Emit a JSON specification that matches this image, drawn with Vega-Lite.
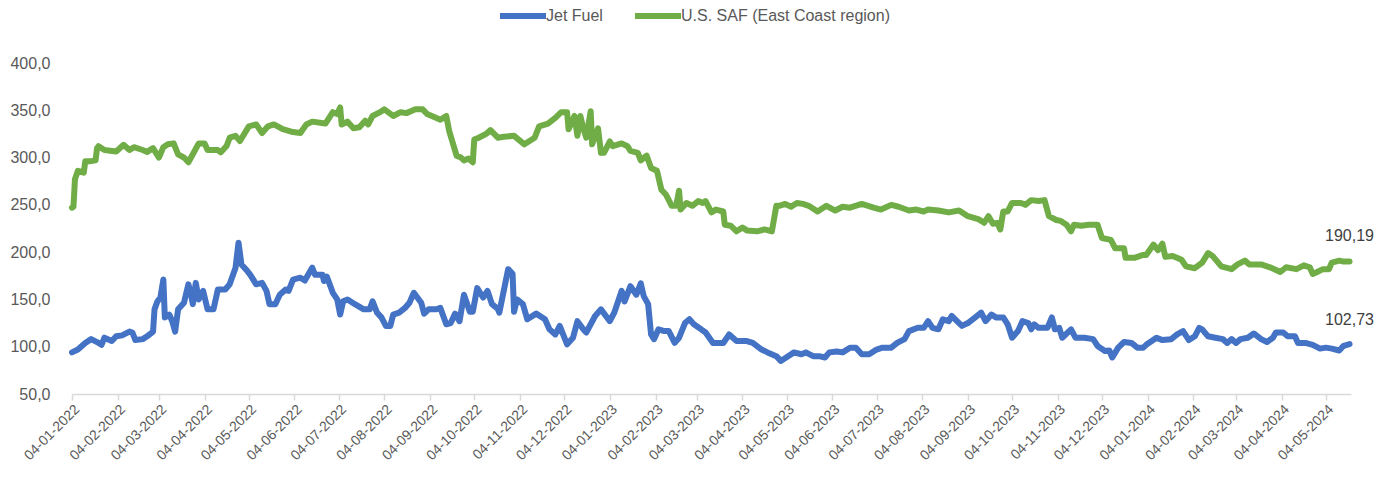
{
  "$schema": "https://vega.github.io/schema/vega-lite/v6.json",
  "width": 1279,
  "height": 331,
  "autosize": {"type": "none"},
  "padding": {"left": 72, "top": 63, "right": 37, "bottom": 89},
  "background": "#ffffff",
  "config": {
    "view": {"stroke": null},
    "locale": {"number": {"decimal": ",", "thousands": ".", "grouping": [3], "currency": ["", " €"]}},
    "font": "Liberation Sans"
  },
  "datasets": {
    "jet": [
      {"date": "2022-01-04", "value": 94}, {"date": "2022-01-08", "value": 97}, {"date": "2022-01-13", "value": 104}, {"date": "2022-01-17", "value": 108},
      {"date": "2022-01-22", "value": 104}, {"date": "2022-01-24", "value": 102}, {"date": "2022-01-26", "value": 109.5}, {"date": "2022-01-31", "value": 106},
      {"date": "2022-02-03", "value": 111}, {"date": "2022-02-07", "value": 112}, {"date": "2022-02-12", "value": 116}, {"date": "2022-02-14", "value": 115},
      {"date": "2022-02-16", "value": 107}, {"date": "2022-02-21", "value": 108}, {"date": "2022-02-24", "value": 111}, {"date": "2022-02-28", "value": 116},
      {"date": "2022-03-01", "value": 139.5}, {"date": "2022-03-03", "value": 148}, {"date": "2022-03-05", "value": 152}, {"date": "2022-03-07", "value": 171},
      {"date": "2022-03-08", "value": 131}, {"date": "2022-03-11", "value": 134}, {"date": "2022-03-13", "value": 127}, {"date": "2022-03-15", "value": 116},
      {"date": "2022-03-17", "value": 139.5}, {"date": "2022-03-21", "value": 146.5}, {"date": "2022-03-24", "value": 166}, {"date": "2022-03-26", "value": 153.5},
      {"date": "2022-03-27", "value": 145}, {"date": "2022-03-29", "value": 167.5}, {"date": "2022-03-31", "value": 150}, {"date": "2022-04-03", "value": 159},
      {"date": "2022-04-06", "value": 139.5}, {"date": "2022-04-10", "value": 139.5}, {"date": "2022-04-13", "value": 160.5}, {"date": "2022-04-18", "value": 160.5},
      {"date": "2022-04-21", "value": 166}, {"date": "2022-04-25", "value": 183.6}, {"date": "2022-04-27", "value": 210}, {"date": "2022-04-29", "value": 187},
      {"date": "2022-05-03", "value": 180}, {"date": "2022-05-05", "value": 176}, {"date": "2022-05-09", "value": 166}, {"date": "2022-05-13", "value": 167.5},
      {"date": "2022-05-16", "value": 159}, {"date": "2022-05-18", "value": 145}, {"date": "2022-05-22", "value": 145}, {"date": "2022-05-25", "value": 155},
      {"date": "2022-05-29", "value": 160.5}, {"date": "2022-05-31", "value": 159}, {"date": "2022-06-03", "value": 171}, {"date": "2022-06-08", "value": 173},
      {"date": "2022-06-11", "value": 170}, {"date": "2022-06-16", "value": 183.6}, {"date": "2022-06-18", "value": 176}, {"date": "2022-06-23", "value": 176},
      {"date": "2022-06-24", "value": 169.5}, {"date": "2022-06-26", "value": 174}, {"date": "2022-06-30", "value": 157}, {"date": "2022-07-03", "value": 150},
      {"date": "2022-07-05", "value": 134}, {"date": "2022-07-07", "value": 148}, {"date": "2022-07-10", "value": 150}, {"date": "2022-07-15", "value": 145},
      {"date": "2022-07-21", "value": 139.5}, {"date": "2022-07-25", "value": 139.5}, {"date": "2022-07-27", "value": 148}, {"date": "2022-07-30", "value": 136},
      {"date": "2022-08-02", "value": 131}, {"date": "2022-08-05", "value": 122}, {"date": "2022-08-08", "value": 122}, {"date": "2022-08-10", "value": 134},
      {"date": "2022-08-14", "value": 136}, {"date": "2022-08-18", "value": 141}, {"date": "2022-08-21", "value": 146.5}, {"date": "2022-08-24", "value": 157},
      {"date": "2022-08-29", "value": 146.5}, {"date": "2022-08-31", "value": 135}, {"date": "2022-09-03", "value": 139.5}, {"date": "2022-09-08", "value": 139.5},
      {"date": "2022-09-11", "value": 141}, {"date": "2022-09-15", "value": 123.7}, {"date": "2022-09-18", "value": 125}, {"date": "2022-09-21", "value": 135},
      {"date": "2022-09-24", "value": 127}, {"date": "2022-09-27", "value": 155}, {"date": "2022-10-01", "value": 137}, {"date": "2022-10-03", "value": 137},
      {"date": "2022-10-06", "value": 162}, {"date": "2022-10-10", "value": 152}, {"date": "2022-10-13", "value": 159}, {"date": "2022-10-16", "value": 145},
      {"date": "2022-10-20", "value": 140}, {"date": "2022-10-21", "value": 136}, {"date": "2022-10-24", "value": 159}, {"date": "2022-10-27", "value": 182},
      {"date": "2022-10-30", "value": 177}, {"date": "2022-10-31", "value": 137}, {"date": "2022-11-02", "value": 150}, {"date": "2022-11-06", "value": 145},
      {"date": "2022-11-09", "value": 129}, {"date": "2022-11-15", "value": 135}, {"date": "2022-11-21", "value": 129}, {"date": "2022-11-24", "value": 118.4},
      {"date": "2022-11-28", "value": 113}, {"date": "2022-12-01", "value": 122}, {"date": "2022-12-06", "value": 102.5}, {"date": "2022-12-10", "value": 109.5},
      {"date": "2022-12-13", "value": 127}, {"date": "2022-12-17", "value": 118.4}, {"date": "2022-12-19", "value": 115}, {"date": "2022-12-25", "value": 132.5},
      {"date": "2022-12-29", "value": 139.5}, {"date": "2023-01-04", "value": 127}, {"date": "2023-01-07", "value": 136}, {"date": "2023-01-12", "value": 159},
      {"date": "2023-01-14", "value": 148}, {"date": "2023-01-18", "value": 164}, {"date": "2023-01-22", "value": 155}, {"date": "2023-01-25", "value": 167},
      {"date": "2023-01-27", "value": 153.5}, {"date": "2023-01-30", "value": 145}, {"date": "2023-02-01", "value": 113}, {"date": "2023-02-03", "value": 108},
      {"date": "2023-02-06", "value": 118.4}, {"date": "2023-02-10", "value": 116.5}, {"date": "2023-02-13", "value": 116.5}, {"date": "2023-02-17", "value": 104},
      {"date": "2023-02-20", "value": 109.5}, {"date": "2023-02-24", "value": 125}, {"date": "2023-02-27", "value": 129}, {"date": "2023-03-02", "value": 123.7},
      {"date": "2023-03-07", "value": 118.4}, {"date": "2023-03-10", "value": 115}, {"date": "2023-03-15", "value": 104}, {"date": "2023-03-22", "value": 104},
      {"date": "2023-03-26", "value": 113}, {"date": "2023-03-31", "value": 106}, {"date": "2023-04-07", "value": 106}, {"date": "2023-04-11", "value": 104},
      {"date": "2023-04-17", "value": 97}, {"date": "2023-04-21", "value": 94}, {"date": "2023-04-27", "value": 90}, {"date": "2023-04-30", "value": 85},
      {"date": "2023-05-05", "value": 90}, {"date": "2023-05-09", "value": 94}, {"date": "2023-05-14", "value": 92}, {"date": "2023-05-17", "value": 94},
      {"date": "2023-05-22", "value": 90}, {"date": "2023-05-26", "value": 90}, {"date": "2023-05-30", "value": 88.6}, {"date": "2023-06-02", "value": 94},
      {"date": "2023-06-07", "value": 95}, {"date": "2023-06-11", "value": 94}, {"date": "2023-06-16", "value": 99}, {"date": "2023-06-20", "value": 99},
      {"date": "2023-06-24", "value": 92}, {"date": "2023-06-29", "value": 92}, {"date": "2023-07-04", "value": 97}, {"date": "2023-07-08", "value": 99},
      {"date": "2023-07-14", "value": 99}, {"date": "2023-07-18", "value": 104}, {"date": "2023-07-23", "value": 108}, {"date": "2023-07-26", "value": 116.5},
      {"date": "2023-08-01", "value": 120}, {"date": "2023-08-05", "value": 120}, {"date": "2023-08-08", "value": 127}, {"date": "2023-08-11", "value": 120},
      {"date": "2023-08-15", "value": 118.4}, {"date": "2023-08-18", "value": 129}, {"date": "2023-08-22", "value": 127}, {"date": "2023-08-24", "value": 132.5},
      {"date": "2023-08-29", "value": 125}, {"date": "2023-08-31", "value": 122}, {"date": "2023-09-04", "value": 125}, {"date": "2023-09-09", "value": 131},
      {"date": "2023-09-13", "value": 136}, {"date": "2023-09-16", "value": 127}, {"date": "2023-09-20", "value": 134}, {"date": "2023-09-23", "value": 131},
      {"date": "2023-09-28", "value": 131}, {"date": "2023-10-01", "value": 123.7}, {"date": "2023-10-04", "value": 109.5}, {"date": "2023-10-08", "value": 116.5},
      {"date": "2023-10-11", "value": 127}, {"date": "2023-10-15", "value": 125}, {"date": "2023-10-17", "value": 118.4}, {"date": "2023-10-19", "value": 123.7},
      {"date": "2023-10-22", "value": 120}, {"date": "2023-10-28", "value": 120}, {"date": "2023-10-31", "value": 131}, {"date": "2023-11-02", "value": 118.4},
      {"date": "2023-11-05", "value": 120}, {"date": "2023-11-07", "value": 109.5}, {"date": "2023-11-13", "value": 118.4}, {"date": "2023-11-16", "value": 109.5},
      {"date": "2023-11-22", "value": 109.5}, {"date": "2023-11-28", "value": 108}, {"date": "2023-12-01", "value": 100.8}, {"date": "2023-12-06", "value": 95.5},
      {"date": "2023-12-09", "value": 96}, {"date": "2023-12-11", "value": 88.6}, {"date": "2023-12-15", "value": 99}, {"date": "2023-12-19", "value": 105},
      {"date": "2023-12-24", "value": 104}, {"date": "2023-12-28", "value": 99}, {"date": "2024-01-01", "value": 99}, {"date": "2024-01-03", "value": 102},
      {"date": "2024-01-10", "value": 109.5}, {"date": "2024-01-14", "value": 107}, {"date": "2024-01-20", "value": 108}, {"date": "2024-01-24", "value": 113},
      {"date": "2024-01-28", "value": 116.5}, {"date": "2024-02-01", "value": 107}, {"date": "2024-02-05", "value": 111}, {"date": "2024-02-08", "value": 120},
      {"date": "2024-02-10", "value": 118.4}, {"date": "2024-02-14", "value": 111}, {"date": "2024-02-19", "value": 109.5}, {"date": "2024-02-24", "value": 108},
      {"date": "2024-02-27", "value": 104}, {"date": "2024-03-01", "value": 108}, {"date": "2024-03-04", "value": 104}, {"date": "2024-03-07", "value": 108},
      {"date": "2024-03-12", "value": 109.5}, {"date": "2024-03-16", "value": 114}, {"date": "2024-03-21", "value": 108}, {"date": "2024-03-25", "value": 105},
      {"date": "2024-03-29", "value": 109.5}, {"date": "2024-03-31", "value": 115}, {"date": "2024-04-05", "value": 115}, {"date": "2024-04-08", "value": 111},
      {"date": "2024-04-13", "value": 111}, {"date": "2024-04-15", "value": 104}, {"date": "2024-04-20", "value": 104}, {"date": "2024-04-25", "value": 102},
      {"date": "2024-04-30", "value": 98}, {"date": "2024-05-04", "value": 99}, {"date": "2024-05-08", "value": 98}, {"date": "2024-05-13", "value": 96},
      {"date": "2024-05-16", "value": 101}, {"date": "2024-05-20", "value": 102.73}
    ],
    "saf": [
      {"date": "2022-01-04", "value": 247}, {"date": "2022-01-05", "value": 248}, {"date": "2022-01-06", "value": 277}, {"date": "2022-01-08", "value": 286},
      {"date": "2022-01-12", "value": 284}, {"date": "2022-01-13", "value": 296}, {"date": "2022-01-16", "value": 296}, {"date": "2022-01-20", "value": 297},
      {"date": "2022-01-21", "value": 310}, {"date": "2022-01-22", "value": 312}, {"date": "2022-01-26", "value": 308}, {"date": "2022-02-03", "value": 306.5},
      {"date": "2022-02-08", "value": 313.5}, {"date": "2022-02-12", "value": 308}, {"date": "2022-02-15", "value": 311}, {"date": "2022-02-21", "value": 308},
      {"date": "2022-02-24", "value": 306}, {"date": "2022-02-28", "value": 310}, {"date": "2022-03-04", "value": 300}, {"date": "2022-03-07", "value": 311},
      {"date": "2022-03-10", "value": 314}, {"date": "2022-03-14", "value": 315}, {"date": "2022-03-17", "value": 303.5}, {"date": "2022-03-21", "value": 300},
      {"date": "2022-03-24", "value": 295}, {"date": "2022-03-27", "value": 303.5}, {"date": "2022-03-31", "value": 315}, {"date": "2022-04-04", "value": 315},
      {"date": "2022-04-06", "value": 308}, {"date": "2022-04-13", "value": 308}, {"date": "2022-04-15", "value": 305.5}, {"date": "2022-04-19", "value": 312.5},
      {"date": "2022-04-21", "value": 321}, {"date": "2022-04-25", "value": 323}, {"date": "2022-04-28", "value": 317.5}, {"date": "2022-05-04", "value": 333},
      {"date": "2022-05-09", "value": 335}, {"date": "2022-05-13", "value": 326}, {"date": "2022-05-17", "value": 333}, {"date": "2022-05-21", "value": 335},
      {"date": "2022-05-27", "value": 330}, {"date": "2022-06-03", "value": 327}, {"date": "2022-06-08", "value": 326}, {"date": "2022-06-12", "value": 335},
      {"date": "2022-06-16", "value": 338}, {"date": "2022-06-25", "value": 336}, {"date": "2022-06-30", "value": 348}, {"date": "2022-07-03", "value": 346},
      {"date": "2022-07-05", "value": 353}, {"date": "2022-07-06", "value": 335}, {"date": "2022-07-10", "value": 338}, {"date": "2022-07-14", "value": 331},
      {"date": "2022-07-18", "value": 332}, {"date": "2022-07-22", "value": 339}, {"date": "2022-07-24", "value": 335}, {"date": "2022-07-27", "value": 344},
      {"date": "2022-08-01", "value": 348}, {"date": "2022-08-04", "value": 351}, {"date": "2022-08-10", "value": 344}, {"date": "2022-08-15", "value": 348},
      {"date": "2022-08-19", "value": 347}, {"date": "2022-08-25", "value": 351}, {"date": "2022-08-30", "value": 351}, {"date": "2022-09-02", "value": 346},
      {"date": "2022-09-08", "value": 342}, {"date": "2022-09-11", "value": 340}, {"date": "2022-09-15", "value": 344}, {"date": "2022-09-17", "value": 328},
      {"date": "2022-09-22", "value": 302}, {"date": "2022-09-25", "value": 300}, {"date": "2022-09-27", "value": 297}, {"date": "2022-09-30", "value": 299},
      {"date": "2022-10-03", "value": 295}, {"date": "2022-10-04", "value": 319}, {"date": "2022-10-07", "value": 321}, {"date": "2022-10-12", "value": 325},
      {"date": "2022-10-15", "value": 329}, {"date": "2022-10-20", "value": 321}, {"date": "2022-10-24", "value": 322}, {"date": "2022-10-31", "value": 323},
      {"date": "2022-11-07", "value": 314}, {"date": "2022-11-14", "value": 321}, {"date": "2022-11-17", "value": 333}, {"date": "2022-11-23", "value": 336},
      {"date": "2022-11-28", "value": 342}, {"date": "2022-12-02", "value": 348}, {"date": "2022-12-06", "value": 348}, {"date": "2022-12-07", "value": 330},
      {"date": "2022-12-11", "value": 344}, {"date": "2022-12-13", "value": 323}, {"date": "2022-12-15", "value": 344}, {"date": "2022-12-17", "value": 331},
      {"date": "2022-12-19", "value": 321}, {"date": "2022-12-22", "value": 349}, {"date": "2022-12-23", "value": 314}, {"date": "2022-12-27", "value": 331},
      {"date": "2022-12-29", "value": 305}, {"date": "2022-12-31", "value": 305}, {"date": "2023-01-04", "value": 317}, {"date": "2023-01-06", "value": 312},
      {"date": "2023-01-12", "value": 315}, {"date": "2023-01-16", "value": 312}, {"date": "2023-01-18", "value": 307}, {"date": "2023-01-23", "value": 305},
      {"date": "2023-01-25", "value": 297}, {"date": "2023-01-29", "value": 302}, {"date": "2023-02-01", "value": 289}, {"date": "2023-02-05", "value": 286},
      {"date": "2023-02-08", "value": 266}, {"date": "2023-02-11", "value": 261}, {"date": "2023-02-15", "value": 249}, {"date": "2023-02-18", "value": 249},
      {"date": "2023-02-20", "value": 265}, {"date": "2023-02-21", "value": 245}, {"date": "2023-02-25", "value": 252}, {"date": "2023-03-01", "value": 249},
      {"date": "2023-03-05", "value": 254}, {"date": "2023-03-08", "value": 252}, {"date": "2023-03-10", "value": 254}, {"date": "2023-03-14", "value": 242},
      {"date": "2023-03-17", "value": 245}, {"date": "2023-03-22", "value": 243}, {"date": "2023-03-23", "value": 229}, {"date": "2023-03-27", "value": 228},
      {"date": "2023-03-31", "value": 222}, {"date": "2023-04-04", "value": 226}, {"date": "2023-04-07", "value": 223}, {"date": "2023-04-14", "value": 222},
      {"date": "2023-04-19", "value": 224}, {"date": "2023-04-24", "value": 222}, {"date": "2023-04-25", "value": 231}, {"date": "2023-04-27", "value": 249},
      {"date": "2023-04-29", "value": 249}, {"date": "2023-05-03", "value": 251}, {"date": "2023-05-07", "value": 248}, {"date": "2023-05-11", "value": 252},
      {"date": "2023-05-15", "value": 251}, {"date": "2023-05-19", "value": 249}, {"date": "2023-05-25", "value": 243}, {"date": "2023-05-31", "value": 249},
      {"date": "2023-06-06", "value": 244}, {"date": "2023-06-11", "value": 248}, {"date": "2023-06-16", "value": 247}, {"date": "2023-06-24", "value": 251},
      {"date": "2023-07-02", "value": 247}, {"date": "2023-07-07", "value": 245}, {"date": "2023-07-14", "value": 250}, {"date": "2023-07-19", "value": 248},
      {"date": "2023-07-26", "value": 244}, {"date": "2023-07-31", "value": 245}, {"date": "2023-08-05", "value": 243}, {"date": "2023-08-08", "value": 245},
      {"date": "2023-08-15", "value": 244}, {"date": "2023-08-22", "value": 242}, {"date": "2023-08-29", "value": 244}, {"date": "2023-09-04", "value": 238},
      {"date": "2023-09-11", "value": 235}, {"date": "2023-09-15", "value": 231}, {"date": "2023-09-18", "value": 238}, {"date": "2023-09-21", "value": 230},
      {"date": "2023-09-24", "value": 231}, {"date": "2023-09-26", "value": 224}, {"date": "2023-09-28", "value": 243}, {"date": "2023-10-01", "value": 243},
      {"date": "2023-10-04", "value": 252}, {"date": "2023-10-10", "value": 252}, {"date": "2023-10-13", "value": 250}, {"date": "2023-10-17", "value": 255},
      {"date": "2023-10-22", "value": 254}, {"date": "2023-10-26", "value": 255}, {"date": "2023-10-29", "value": 238}, {"date": "2023-11-03", "value": 234},
      {"date": "2023-11-06", "value": 233}, {"date": "2023-11-10", "value": 229}, {"date": "2023-11-13", "value": 222}, {"date": "2023-11-15", "value": 229},
      {"date": "2023-11-20", "value": 228}, {"date": "2023-11-25", "value": 229}, {"date": "2023-12-01", "value": 229}, {"date": "2023-12-04", "value": 215},
      {"date": "2023-12-10", "value": 213}, {"date": "2023-12-13", "value": 204}, {"date": "2023-12-19", "value": 204}, {"date": "2023-12-20", "value": 194},
      {"date": "2023-12-26", "value": 194}, {"date": "2024-01-01", "value": 197}, {"date": "2024-01-03", "value": 197}, {"date": "2024-01-08", "value": 208},
      {"date": "2024-01-11", "value": 202}, {"date": "2024-01-14", "value": 209}, {"date": "2024-01-16", "value": 195}, {"date": "2024-01-21", "value": 196},
      {"date": "2024-01-27", "value": 192}, {"date": "2024-01-30", "value": 185}, {"date": "2024-02-05", "value": 183}, {"date": "2024-02-10", "value": 189},
      {"date": "2024-02-14", "value": 199}, {"date": "2024-02-17", "value": 196}, {"date": "2024-02-23", "value": 185}, {"date": "2024-03-01", "value": 182},
      {"date": "2024-03-05", "value": 187}, {"date": "2024-03-10", "value": 191}, {"date": "2024-03-13", "value": 187}, {"date": "2024-03-21", "value": 187},
      {"date": "2024-03-27", "value": 184}, {"date": "2024-04-03", "value": 179}, {"date": "2024-04-07", "value": 184}, {"date": "2024-04-14", "value": 182},
      {"date": "2024-04-19", "value": 186}, {"date": "2024-04-23", "value": 184}, {"date": "2024-04-25", "value": 177}, {"date": "2024-04-28", "value": 179},
      {"date": "2024-05-02", "value": 182}, {"date": "2024-05-06", "value": 182}, {"date": "2024-05-08", "value": 189}, {"date": "2024-05-13", "value": 191},
      {"date": "2024-05-16", "value": 190}, {"date": "2024-05-20", "value": 190.19}
    ]
  },
  "encoding": {
    "x": {
      "field": "date",
      "type": "temporal",
      "scale": {
        "type": "utc",
        "domain": [{"year": 2022, "month": 1, "date": 4, "utc": true}, {"year": 2024, "month": 5, "date": 21, "utc": true}]
      },
      "axis": {
        "title": null,
        "values": [
          {"year": 2022, "month": 1, "date": 4, "utc": true}, {"year": 2022, "month": 2, "date": 4, "utc": true}, {"year": 2022, "month": 3, "date": 4, "utc": true},
          {"year": 2022, "month": 4, "date": 4, "utc": true}, {"year": 2022, "month": 5, "date": 4, "utc": true}, {"year": 2022, "month": 6, "date": 4, "utc": true},
          {"year": 2022, "month": 7, "date": 4, "utc": true}, {"year": 2022, "month": 8, "date": 4, "utc": true}, {"year": 2022, "month": 9, "date": 4, "utc": true},
          {"year": 2022, "month": 10, "date": 4, "utc": true}, {"year": 2022, "month": 11, "date": 4, "utc": true}, {"year": 2022, "month": 12, "date": 4, "utc": true},
          {"year": 2023, "month": 1, "date": 4, "utc": true}, {"year": 2023, "month": 2, "date": 4, "utc": true}, {"year": 2023, "month": 3, "date": 4, "utc": true},
          {"year": 2023, "month": 4, "date": 4, "utc": true}, {"year": 2023, "month": 5, "date": 4, "utc": true}, {"year": 2023, "month": 6, "date": 4, "utc": true},
          {"year": 2023, "month": 7, "date": 4, "utc": true}, {"year": 2023, "month": 8, "date": 4, "utc": true}, {"year": 2023, "month": 9, "date": 4, "utc": true},
          {"year": 2023, "month": 10, "date": 4, "utc": true}, {"year": 2023, "month": 11, "date": 4, "utc": true}, {"year": 2023, "month": 12, "date": 4, "utc": true},
          {"year": 2024, "month": 1, "date": 4, "utc": true}, {"year": 2024, "month": 2, "date": 4, "utc": true}, {"year": 2024, "month": 3, "date": 4, "utc": true},
          {"year": 2024, "month": 4, "date": 4, "utc": true}, {"year": 2024, "month": 5, "date": 4, "utc": true}
        ],
        "labelExpr": "utcFormat(datum.value, '%d-%m-%Y')",
        "labelAngle": -45,
        "labelFont": "Liberation Sans",
        "labelFontSize": 14,
        "labelColor": "#595959",
        "labelOverlap": false,
        "labelFlush": false,
        "labelBound": false,
        "labelPadding": 2,
        "domainColor": "#d9d9d9",
        "domainWidth": 1.5,
        "tickColor": "#d9d9d9",
        "tickWidth": 1.5,
        "tickSize": 6,
        "grid": false
      }
    },
    "y": {
      "field": "value",
      "type": "quantitative",
      "scale": {"domain": [50, 400], "nice": false, "zero": false},
      "axis": {
        "title": null,
        "values": [50, 100, 150, 200, 250, 300, 350, 400],
        "format": ".1f",
        "domain": false,
        "ticks": false,
        "tickSize": 0,
        "grid": false,
        "labelFont": "Liberation Sans",
        "labelFontSize": 16,
        "labelColor": "#595959",
        "labelPadding": 22
      }
    }
  },
  "layer": [
    {
      "data": {"name": "jet"},
      "mark": {"type": "line", "strokeWidth": 6, "strokeCap": "round", "strokeJoin": "round"},
      "encoding": {
        "color": {
          "datum": "Jet Fuel",
          "type": "nominal",
          "scale": {"domain": ["Jet Fuel", "U.S. SAF (East Coast region)"], "range": ["#4472C4", "#70AD47"]},
          "legend": {
            "title": null,
            "orient": "none",
            "legendX": 425,
            "legendY": -73,
            "direction": "horizontal",
            "symbolType": "stroke",
            "symbolStrokeWidth": 6,
            "symbolSize": 2116,
            "labelFont": "Liberation Sans",
            "labelFontSize": 16,
            "labelColor": "#595959",
            "labelOffset": -3,
            "labelLimit": 400,
            "columnPadding": 20,
            "padding": 0
          }
        }
      }
    },
    {
      "data": {"name": "saf"},
      "mark": {"type": "line", "strokeWidth": 6, "strokeCap": "round", "strokeJoin": "round"},
      "encoding": {
        "color": {"datum": "U.S. SAF (East Coast region)", "type": "nominal"}
      }
    },
    {
      "data": {"name": "jet"},
      "transform": [{"filter": "utcyear(datum.date) == 2024 && utcmonth(datum.date) == 4 && utcdate(datum.date) == 20"}],
      "mark": {"type": "text", "align": "center", "baseline": "middle", "dy": -24, "font": "Liberation Sans", "fontSize": 16, "color": "#404040"},
      "encoding": {"text": {"field": "value", "type": "quantitative", "format": ".2f"}}
    },
    {
      "data": {"name": "saf"},
      "transform": [{"filter": "utcyear(datum.date) == 2024 && utcmonth(datum.date) == 4 && utcdate(datum.date) == 20"}],
      "mark": {"type": "text", "align": "center", "baseline": "middle", "dy": -25, "font": "Liberation Sans", "fontSize": 16, "color": "#404040"},
      "encoding": {"text": {"field": "value", "type": "quantitative", "format": ".2f"}}
    }
  ]
}
